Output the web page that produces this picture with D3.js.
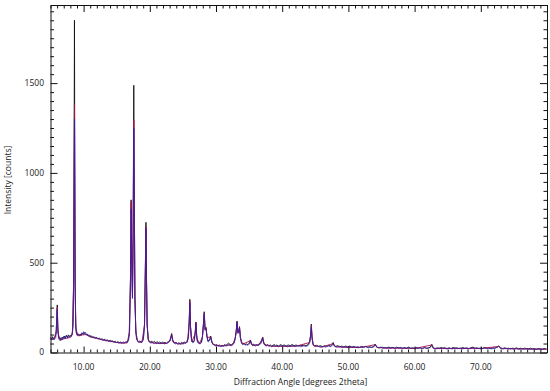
<!DOCTYPE html>
<html>
<head>
<meta charset="utf-8">
<script src="https://cdn.jsdelivr.net/npm/d3@7"></script>
<style>
  body { margin: 0; background: #fff; }
  text { font-family: "Open Sans", "Noto Sans", sans-serif; fill: #1a1a1a; }
</style>
</head>
<body>
<svg id="xrd" width="550" height="391"></svg>
<script>
// measured scans, [2theta, counts]
var blackScan = [[5.0,84],[5.15,72],[5.3,88],[5.45,75],[5.6,80],[5.75,92],[5.85,110],[5.95,200],[6.02,265],[6.1,150],[6.2,88],[6.35,74],[6.5,80],[6.65,70],[6.8,86],[6.95,78],[7.1,92],[7.25,80],[7.4,95],[7.55,84],[7.7,98],[7.85,88],[8.0,96],[8.15,90],[8.3,110],[8.42,160],[8.5,420],[8.57,1150],[8.62,1850],[8.67,1050],[8.73,380],[8.8,160],[8.9,108],[9.05,98],[9.2,104],[9.35,95],[9.5,102],[9.65,96],[9.8,108],[9.95,100],[10.1,112],[10.25,104],[10.4,98],[10.55,102],[10.7,92],[10.85,96],[11.0,88],[11.2,92],[11.4,84],[11.6,86],[11.8,80],[12.0,84],[12.2,76],[12.4,80],[12.6,72],[12.8,76],[13.0,70],[13.2,74],[13.4,66],[13.6,70],[13.8,64],[14.0,68],[14.2,62],[14.4,64],[14.6,58],[14.8,62],[15.0,56],[15.2,60],[15.4,54],[15.6,58],[15.8,52],[16.0,58],[16.2,54],[16.4,60],[16.6,58],[16.8,72],[16.95,120],[17.08,420],[17.18,850],[17.28,520],[17.38,330],[17.48,650],[17.58,1488],[17.66,880],[17.75,320],[17.88,130],[18.0,80],[18.15,66],[18.3,60],[18.5,64],[18.7,58],[18.9,66],[19.05,80],[19.2,160],[19.33,480],[19.42,725],[19.5,420],[19.6,160],[19.75,78],[19.9,62],[20.1,58],[20.3,62],[20.5,56],[20.7,62],[20.9,54],[21.1,60],[21.3,55],[21.5,58],[21.7,52],[21.9,58],[22.1,54],[22.3,56],[22.5,52],[22.7,58],[22.9,60],[23.1,74],[23.3,106],[23.45,72],[23.6,58],[23.8,54],[24.0,56],[24.2,50],[24.4,54],[24.6,50],[24.8,56],[25.0,52],[25.2,58],[25.4,54],[25.6,62],[25.8,80],[25.95,170],[26.05,296],[26.15,150],[26.3,72],[26.5,58],[26.7,66],[26.85,110],[26.97,170],[27.08,96],[27.2,62],[27.4,56],[27.6,52],[27.8,58],[27.95,90],[28.1,160],[28.22,227],[28.35,130],[28.5,140],[28.62,95],[28.8,64],[29.0,70],[29.2,92],[29.35,62],[29.5,50],[29.7,44],[29.9,40],[30.1,44],[30.3,38],[30.5,42],[30.7,36],[30.9,40],[31.1,38],[31.3,44],[31.5,40],[31.7,46],[31.9,52],[32.1,46],[32.3,42],[32.5,48],[32.7,56],[32.9,80],[33.05,120],[33.18,175],[33.32,112],[33.45,118],[33.55,144],[33.68,86],[33.85,58],[34.0,48],[34.2,52],[34.4,44],[34.6,48],[34.8,44],[35.0,52],[35.2,70],[35.35,48],[35.5,42],[35.7,46],[35.9,40],[36.1,44],[36.3,42],[36.5,48],[36.7,52],[36.9,64],[37.05,86],[37.2,56],[37.4,44],[37.6,40],[37.8,44],[38.0,38],[38.2,42],[38.4,36],[38.6,40],[38.8,44],[39.0,38],[39.2,42],[39.4,36],[39.6,40],[39.8,44],[40.0,38],[40.3,42],[40.6,36],[40.9,42],[41.2,38],[41.5,44],[41.8,38],[42.1,42],[42.4,36],[42.7,40],[43.0,38],[43.3,42],[43.6,38],[43.9,44],[44.15,60],[44.3,100],[44.4,158],[44.5,90],[44.65,48],[44.9,36],[45.2,40],[45.5,34],[45.8,38],[46.1,32],[46.4,38],[46.7,34],[47.0,40],[47.3,36],[47.55,44],[47.7,56],[47.85,40],[48.1,34],[48.4,38],[48.7,32],[49.0,36],[49.3,30],[49.6,36],[49.9,32],[50.2,36],[50.5,30],[50.8,34],[51.1,28],[51.4,32],[51.7,28],[52.0,34],[52.3,30],[52.6,34],[52.9,28],[53.2,32],[53.5,28],[53.8,32],[54.05,46],[54.3,30],[54.6,26],[54.9,30],[55.2,24],[55.5,28],[55.8,24],[56.1,30],[56.4,26],[56.7,28],[57.0,24],[57.3,30],[57.6,24],[57.9,28],[58.2,22],[58.5,28],[58.8,24],[59.1,30],[59.4,24],[59.7,26],[60.0,22],[60.3,28],[60.6,24],[60.9,26],[61.2,22],[61.5,28],[61.8,24],[62.1,26],[62.4,30],[62.6,46],[62.8,26],[63.1,22],[63.4,26],[63.7,22],[64.0,28],[64.3,24],[64.6,26],[64.9,22],[65.2,26],[65.5,22],[65.8,28],[66.1,24],[66.4,26],[66.7,22],[67.0,24],[67.3,28],[67.6,22],[67.9,26],[68.2,22],[68.5,26],[68.8,30],[69.1,24],[69.4,26],[69.7,22],[70.0,26],[70.3,22],[70.6,28],[70.9,24],[71.2,26],[71.5,22],[71.8,26],[72.1,24],[72.4,28],[72.7,36],[73.0,26],[73.3,22],[73.6,26],[73.9,22],[74.2,24],[74.5,20],[74.8,24],[75.1,22],[75.4,26],[75.7,20],[76.0,24],[76.3,20],[76.6,24],[76.9,22],[77.2,20],[77.5,24],[77.8,20],[78.1,22],[78.4,18],[78.7,22],[79.0,20],[79.3,18],[79.6,22],[79.9,20]];

var redScan = [[5.0,74],[5.5,72],[5.9,120],[6.02,250],[6.12,110],[6.5,68],[7.0,76],[7.5,80],[8.0,84],[8.3,100],[8.5,400],[8.57,1050],[8.62,1380],[8.67,950],[8.73,340],[8.85,130],[9.2,92],[9.8,98],[10.4,100],[11.0,86],[12.0,78],[13.0,68],[14.0,62],[15.0,56],[16.0,52],[16.6,54],[16.9,110],[17.08,400],[17.18,840],[17.28,500],[17.38,310],[17.48,620],[17.58,1294],[17.66,850],[17.75,310],[17.9,110],[18.2,60],[18.8,56],[19.2,150],[19.33,460],[19.42,700],[19.5,410],[19.6,150],[19.8,64],[20.5,52],[21.5,50],[22.5,50],[23.1,66],[23.3,100],[23.5,60],[24.2,48],[25.0,48],[25.7,60],[25.95,170],[26.05,285],[26.15,140],[26.35,60],[26.85,105],[26.97,165],[27.1,80],[27.5,50],[27.95,86],[28.1,155],[28.22,220],[28.35,126],[28.5,136],[28.65,84],[29.2,86],[29.5,46],[30.5,36],[31.5,38],[32.5,42],[32.9,78],[33.05,116],[33.18,170],[33.32,108],[33.45,114],[33.55,140],[33.7,80],[34.0,46],[35.2,66],[35.5,40],[36.5,42],[37.05,82],[37.3,44],[38.5,34],[40.0,34],[42.0,34],[44.15,56],[44.3,95],[44.4,150],[44.5,85],[44.7,40],[46.0,30],[47.7,50],[48.0,32],[50.0,28],[52.0,28],[54.05,44],[54.3,28],[56.0,24],[58.0,24],[60.0,22],[62.6,42],[62.9,22],[65.0,22],[68.0,22],[70.0,22],[72.7,34],[73.0,22],[76.0,20],[80.0,18]];

var blueScan = [[5.0,78],[5.2,70],[5.4,82],[5.6,72],[5.8,84],[5.95,180],[6.02,240],[6.1,130],[6.25,78],[6.45,66],[6.6,84],[6.8,72],[7.0,90],[7.2,76],[7.4,96],[7.6,80],[7.8,92],[8.0,86],[8.2,96],[8.35,120],[8.5,380],[8.57,1000],[8.62,1300],[8.67,900],[8.73,330],[8.82,140],[8.95,100],[9.1,92],[9.3,100],[9.5,94],[9.7,110],[9.85,102],[10.0,116],[10.15,106],[10.3,112],[10.5,96],[10.7,100],[10.9,90],[11.1,94],[11.3,84],[11.5,88],[11.7,80],[11.9,84],[12.1,76],[12.3,80],[12.5,72],[12.7,76],[12.9,68],[13.1,72],[13.3,66],[13.5,70],[13.7,62],[13.9,66],[14.1,60],[14.3,66],[14.5,58],[14.7,60],[14.9,54],[15.1,58],[15.3,52],[15.5,56],[15.7,50],[15.9,56],[16.1,52],[16.3,56],[16.5,54],[16.7,62],[16.9,100],[17.08,380],[17.18,800],[17.28,480],[17.38,300],[17.48,600],[17.58,1250],[17.66,820],[17.75,300],[17.88,120],[18.0,74],[18.2,60],[18.4,56],[18.6,60],[18.8,56],[19.0,68],[19.2,150],[19.33,450],[19.42,690],[19.5,400],[19.6,150],[19.75,72],[19.95,56],[20.2,52],[20.4,58],[20.6,50],[20.8,56],[21.0,50],[21.2,54],[21.4,48],[21.6,54],[21.8,50],[22.0,54],[22.2,48],[22.4,52],[22.6,50],[22.8,56],[23.0,62],[23.15,80],[23.3,98],[23.45,66],[23.65,52],[23.85,48],[24.05,52],[24.25,46],[24.45,50],[24.65,46],[24.85,52],[25.05,48],[25.25,54],[25.45,50],[25.65,58],[25.85,90],[25.97,180],[26.05,275],[26.15,140],[26.3,66],[26.5,54],[26.7,60],[26.85,100],[26.97,160],[27.08,90],[27.2,56],[27.4,50],[27.6,48],[27.8,54],[27.95,84],[28.1,150],[28.22,212],[28.35,124],[28.5,132],[28.62,88],[28.8,58],[29.0,64],[29.2,86],[29.35,56],[29.55,46],[29.75,40],[29.95,36],[30.15,40],[30.35,34],[30.55,38],[30.75,32],[30.95,36],[31.15,34],[31.35,40],[31.55,36],[31.75,42],[31.95,46],[32.15,40],[32.35,38],[32.55,44],[32.75,52],[32.9,76],[33.05,114],[33.18,166],[33.32,106],[33.45,112],[33.55,138],[33.68,80],[33.85,52],[34.05,44],[34.25,48],[34.45,40],[34.65,44],[34.85,40],[35.05,48],[35.2,64],[35.35,44],[35.55,38],[35.75,42],[35.95,36],[36.15,40],[36.35,38],[36.55,44],[36.75,48],[36.9,58],[37.05,80],[37.2,50],[37.4,40],[37.6,36],[37.8,40],[38.0,34],[38.2,38],[38.4,32],[38.6,36],[38.8,40],[39.0,34],[39.2,38],[39.4,32],[39.6,36],[39.8,40],[40.0,34],[40.4,38],[40.8,32],[41.2,36],[41.6,40],[42.0,34],[42.4,38],[42.8,32],[43.2,36],[43.6,34],[43.95,40],[44.15,56],[44.3,92],[44.4,140],[44.5,82],[44.65,44],[44.95,32],[45.35,36],[45.75,30],[46.15,34],[46.55,30],[46.95,36],[47.35,32],[47.55,40],[47.7,50],[47.85,36],[48.25,30],[48.65,34],[49.05,28],[49.45,32],[49.85,28],[50.25,34],[50.65,28],[51.05,32],[51.45,26],[51.85,32],[52.25,28],[52.65,34],[53.05,26],[53.45,30],[53.85,32],[54.05,44],[54.3,30],[54.7,26],[55.1,30],[55.5,24],[55.9,28],[56.3,24],[56.7,28],[57.1,22],[57.5,28],[57.9,24],[58.3,26],[58.7,22],[59.1,28],[59.5,22],[59.9,26],[60.3,22],[60.7,26],[61.1,22],[61.5,26],[61.9,22],[62.3,26],[62.6,40],[62.85,24],[63.25,20],[63.65,26],[64.05,22],[64.45,26],[64.85,20],[65.25,24],[65.65,20],[66.05,26],[66.45,22],[66.85,24],[67.25,20],[67.65,26],[68.05,20],[68.45,24],[68.85,28],[69.25,22],[69.65,24],[70.05,20],[70.45,26],[70.85,22],[71.25,24],[71.65,20],[72.05,24],[72.4,28],[72.7,34],[73.0,24],[73.4,20],[73.8,24],[74.2,20],[74.6,22],[75.0,18],[75.4,22],[75.8,18],[76.2,22],[76.6,18],[77.0,22],[77.4,18],[77.8,20],[78.2,16],[78.6,20],[79.0,18],[79.4,20],[79.8,18]];

var xLabels = [10, 20, 30, 40, 50, 60, 70];
var yLabels = [0, 500, 1000, 1500];

var svg = d3.select("#xrd"),
    margin = { top: 5, right: 3, bottom: 38.5, left: 50.5 },
    width = +svg.attr("width") - margin.left - margin.right,
    height = +svg.attr("height") - margin.top - margin.bottom;

var x = d3.scaleLinear().domain([5, 80]).range([0, width]),
    y = d3.scaleLinear().domain([0, 1935]).range([height, 0]);

var g = svg.append("g")
    .attr("transform", "translate(" + margin.left + "," + margin.top + ")");

var line = d3.line()
    .x(function(d) { return x(d[0]); })
    .y(function(d) { return y(d[1]); });

g.append("path").datum(blackScan)
    .attr("fill", "none").attr("stroke", "#111").attr("stroke-width", 0.9)
    .attr("d", line);
g.append("path").datum(redScan)
    .attr("fill", "none").attr("stroke", "#a8104e").attr("stroke-width", 0.9)
    .attr("d", line);
g.append("path").datum(blueScan)
    .attr("fill", "none").attr("stroke", "#2c1cb4").attr("stroke-width", 0.9)
    .attr("stroke-opacity", 0.8)
    .attr("d", line);

// frame with inward ticks on all four sides
var minorX = d3.range(5, 81, 1),
    minorY = d3.range(0, 1935, 50);

function isMajorX(d) { return d % 10 === 0; }
function isMajorY(d) { return d % 500 === 0; }

g.append("g")
    .attr("transform", "translate(0," + height + ")")
    .call(d3.axisBottom(x).tickValues(minorX).tickSize(0).tickFormat(""))
    .call(function(a) {
        a.selectAll(".tick line").attr("y2", function(d) { return isMajorX(d) ? -6 : -3; });
    });
g.append("g")
    .call(d3.axisTop(x).tickValues(minorX).tickSize(0).tickFormat(""))
    .call(function(a) {
        a.selectAll(".tick line").attr("y2", function(d) { return isMajorX(d) ? 7 : 3.5; });
    });
g.append("g")
    .call(d3.axisLeft(y).tickValues(minorY).tickSize(0).tickFormat(""))
    .call(function(a) {
        a.selectAll(".tick line").attr("x2", function(d) { return isMajorY(d) ? 7 : 3.5; });
    });
g.append("g")
    .attr("transform", "translate(" + width + ",0)")
    .call(d3.axisRight(y).tickValues(minorY).tickSize(0).tickFormat(""))
    .call(function(a) {
        a.selectAll(".tick line").attr("x2", function(d) { return isMajorY(d) ? -7 : -3.5; });
    });

g.selectAll(".domain").attr("stroke", "#111");
g.selectAll(".tick line").attr("stroke", "#111");

g.selectAll(".xlab").data(xLabels).enter().append("text")
    .attr("class", "xlab")
    .attr("x", function(d) { return x(d); })
    .attr("y", height + 17)
    .attr("text-anchor", "middle")
    .attr("font-size", "8.5px")
    .text(function(d) { return d3.format(".2f")(d); });

g.selectAll(".ylab").data(yLabels).enter().append("text")
    .attr("class", "ylab")
    .attr("x", -6.5)
    .attr("y", function(d) { return y(d); })
    .attr("dy", "0.35em")
    .attr("text-anchor", "end")
    .attr("font-size", "8.5px")
    .text(function(d) { return d; });

g.append("text")
    .attr("x", 250)
    .attr("y", height + 32)
    .attr("text-anchor", "middle")
    .attr("font-size", "8.5px")
    .text("Diffraction Angle [degrees 2theta]");

g.append("text")
    .attr("transform", "rotate(-90)")
    .attr("x", -175)
    .attr("y", -40)
    .attr("text-anchor", "middle")
    .attr("font-size", "8.5px")
    .text("Intensity [counts]");
</script>
</body>
</html>
